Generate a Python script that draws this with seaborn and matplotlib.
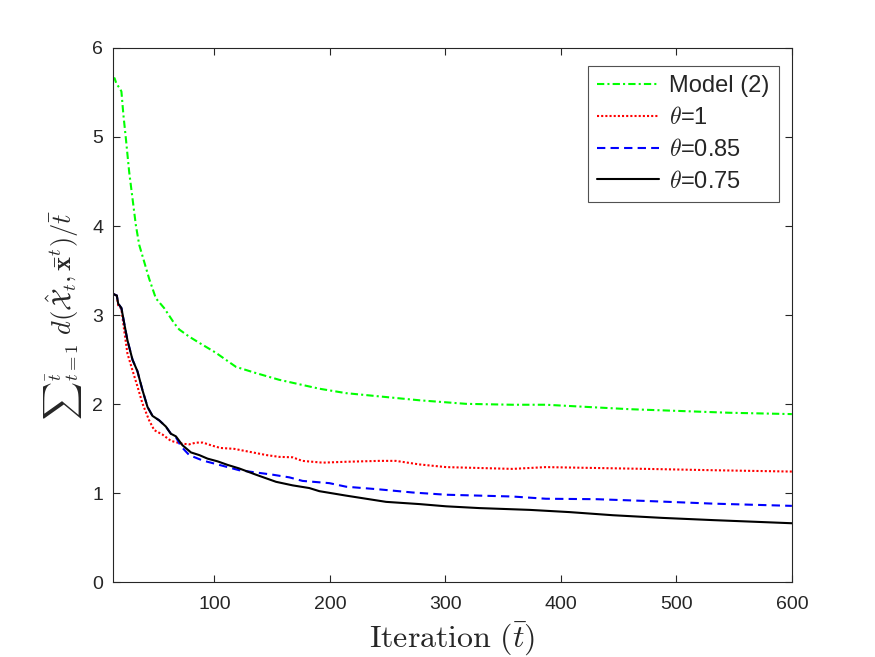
import numpy as np
import pandas as pd
import matplotlib
matplotlib.use("Agg")
import matplotlib.pyplot as plt
import seaborn as sns

# ---- data ----
t_model = [12, 13.5, 15, 16.6, 18, 19.4, 21.1, 23.2, 26.1, 29, 31.9, 34.8, 39.1, 43.4, 49.2,
           56.4, 65.1, 69.4, 78, 86.8, 101, 118.6, 136, 156, 190.8, 214, 245.7, 277.5, 318,
           358, 387, 416, 459.6, 503, 546, 600]
y_model = [5.64, 5.66, 5.60, 5.57, 5.55, 5.51, 5.25, 4.99, 4.61, 4.31, 4.01, 3.79, 3.60, 3.41, 3.19,
           3.08, 2.91, 2.84, 2.76, 2.69, 2.58, 2.42, 2.35, 2.275, 2.175, 2.125, 2.085, 2.045, 2.005,
           1.995, 1.995, 1.975, 1.945, 1.925, 1.905, 1.89]

t_th1 = [12, 15.4, 16.6, 19.4, 21.8, 24.6, 29, 33.3, 37.6, 43.4, 47.8, 55, 62.2, 70.9, 78, 84, 90,
         97, 105, 117, 133, 145, 156, 167.6, 176, 193.7, 214, 242.8, 257, 277.5, 300.6, 329.5,
         358, 387, 430.7, 474, 532, 600]
y_th1 = [3.24, 3.22, 3.11, 3.07, 2.83, 2.57, 2.38, 2.20, 2.01, 1.82, 1.71, 1.66, 1.59, 1.56, 1.55,
         1.57, 1.57, 1.54, 1.51, 1.50, 1.46, 1.43, 1.41, 1.405, 1.365, 1.345, 1.355, 1.365, 1.365,
         1.325, 1.295, 1.285, 1.275, 1.295, 1.285, 1.275, 1.26, 1.245]

t_th085 = [12, 15.4, 16.6, 19.4, 21.8, 24.6, 29, 33.3, 37.6, 42, 46.3, 52.1, 57.9, 62.2, 66.6,
           70.9, 78.1, 89.6, 109.9, 121.4, 133, 150.3, 164.8, 176.3, 199.5, 214, 242.8, 271.7,
           300.6, 329.5, 358, 387, 430.7, 474, 532, 600]
y_th085 = [3.24, 3.22, 3.13, 3.08, 2.91, 2.72, 2.50, 2.37, 2.16, 1.97, 1.87, 1.82, 1.75, 1.67, 1.63,
           1.53, 1.43, 1.37, 1.30, 1.26, 1.24, 1.21, 1.18, 1.14, 1.115, 1.075, 1.045, 1.01,
           0.985, 0.975, 0.965, 0.94, 0.935, 0.915, 0.885, 0.86]

t_th075 = [12, 15.4, 16.6, 19.4, 21.8, 24.6, 29, 33.3, 37.6, 42, 46.3, 52.1, 57.9, 62.2, 66.6,
           72.3, 79.6, 86.8, 94, 102.6, 111.3, 121.4, 135.9, 153.3, 167.7, 182.1, 190.8, 214,
           248.6, 277.5, 300.6, 329.5, 373, 407.5, 445, 488, 532, 600]
y_th075 = [3.24, 3.22, 3.13, 3.08, 2.91, 2.72, 2.50, 2.37, 2.16, 1.97, 1.87, 1.82, 1.75, 1.67, 1.64,
           1.54, 1.46, 1.43, 1.39, 1.36, 1.32, 1.28, 1.21, 1.13, 1.09, 1.06, 1.025, 0.975,
           0.905, 0.88, 0.855, 0.835, 0.815, 0.79, 0.755, 0.725, 0.70, 0.665]

labels = ["Model (2)", r"$\theta$=1", r"$\theta$=0.85", r"$\theta$=0.75"]
x_ticks = [100, 200, 300, 400, 500, 600]
y_ticks = [0, 1, 2, 3, 4, 5, 6]

sns.set_theme(style="white")
plt.rcParams["font.family"] = ["Liberation Sans", "DejaVu Sans"]
plt.rcParams["mathtext.fontset"] = "cm"

fig = plt.figure(figsize=(8.75, 6.57), dpi=100)
ax = fig.add_axes([0.129, 0.1134, 0.776, 0.8137])

series = [(t_model, y_model, "#00ff00", (0, (3.5, 1.5, 1, 1.5))),
          (t_th1, y_th1, "#ff0000", (0, (1, 1))),
          (t_th085, y_th085, "#0000ff", (0, (4, 2.5))),
          (t_th075, y_th075, "#000000", "-")]

for (tx, ty, col, ls), lab in zip(series, labels):
    df = pd.DataFrame({"t": tx, "v": ty})
    sns.lineplot(data=df, x="t", y="v", ax=ax, color=col, linestyle=ls,
                 linewidth=1.5, label=lab, sort=False)

ax.set_xlim(12, 600)
ax.set_ylim(0, 6)
ax.set_xticks(x_ticks)
ax.set_yticks(y_ticks)
ax.tick_params(axis="both", direction="in", length=5, width=0.8, colors="#262626",
               labelsize=14, top=True, right=True, bottom=True, left=True)
ax.tick_params(axis="x", pad=10)
ax.tick_params(axis="y", pad=7)
for s in ax.spines.values():
    s.set_visible(True)
    s.set_color("#262626")
    s.set_linewidth(0.8)

ax.set_xlabel(r"$\mathrm{Iteration}\ (\bar{t})$", fontsize=23, labelpad=5)
ax.set_ylabel(r"$\sum{}_{t=1}^{\bar{t}}\ d(\hat{\mathcal{X}}_t,\bar{\mathbf{x}}^t)/\bar{t}$",
              fontsize=19, labelpad=6)

leg = ax.legend(loc="upper right", bbox_to_anchor=(0.981, 0.967), borderaxespad=0,
                fontsize=17, frameon=True, fancybox=False, handlelength=2.6,
                handletextpad=0.45, labelspacing=0.42, borderpad=0.4)
leg.get_frame().set_edgecolor("#262626")
leg.get_frame().set_linewidth(0.8)

fig.savefig("out.png", dpi=100)
